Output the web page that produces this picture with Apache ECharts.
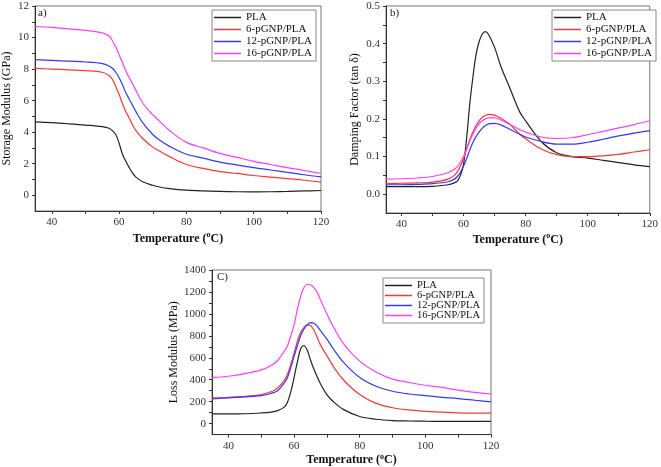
<!DOCTYPE html>
<html><head><meta charset="utf-8">
<script src="https://cdn.jsdelivr.net/npm/echarts@6/dist/echarts.min.js"></script>
<style>html,body{margin:0;padding:0;background:#fff}#c{width:661px;height:467px}</style>
</head><body><div id="c"></div>
<script>
// ---------- DATA ----------
const seriesNames = ['PLA', '6-pGNP/PLA', '12-pGNP/PLA', '16-pGNP/PLA'];
const xLabels = [40, 60, 80, 100, 120];
const xTickMarks = [40, 50, 60, 70, 80, 90, 100, 110, 120];

// a) Storage modulus (GPa)
const tempA = [35,40,45,50,55,57,58,59,60,61,62,63,64,65,67,70,72,75,80,85,90,95,100,105,110,115,120];
const storagePLA = [4.65,4.6,4.53,4.45,4.35,4.25,4.1,3.85,3.3,2.6,2.15,1.75,1.4,1.15,0.85,0.63,0.52,0.42,0.32,0.27,0.24,0.22,0.21,0.22,0.24,0.27,0.3];
const storage6 = [8.05,8.0,7.95,7.9,7.8,7.6,7.35,6.9,6.4,5.8,5.3,4.9,4.45,4.1,3.6,3.05,2.8,2.45,1.95,1.7,1.5,1.38,1.25,1.15,1.05,0.95,0.83];
const storage12 = [8.6,8.55,8.5,8.45,8.35,8.2,8.05,7.8,7.45,7.0,6.5,6.1,5.7,5.3,4.6,3.85,3.5,3.1,2.6,2.35,2.1,1.92,1.75,1.6,1.45,1.3,1.17];
const storage16 = [10.7,10.65,10.55,10.45,10.3,10.1,9.8,9.4,8.9,8.4,7.9,7.45,7.05,6.65,5.85,5.1,4.7,4.1,3.35,3.0,2.65,2.4,2.15,1.95,1.75,1.57,1.38];
const yLabelsA = [0,2,4,6,8,10,12];
const yTickMarksA = [0,1,2,3,4,5,6,7,8,9,10,11,12];

// b) Damping factor (tan delta)
const tempB = [35,40,45,50,55,57,58,59,60,61,62,63,64,65,66,67,68,70,72,75,78,80,85,90,95,100,105,110,115,120];
const dampPLA = [0.02,0.02,0.02,0.021,0.025,0.03,0.035,0.05,0.08,0.15,0.24,0.31,0.37,0.405,0.425,0.432,0.425,0.39,0.34,0.28,0.22,0.195,0.14,0.11,0.1,0.096,0.09,0.084,0.078,0.073];
const damp6 = [0.028,0.029,0.03,0.032,0.04,0.05,0.06,0.075,0.095,0.12,0.145,0.165,0.182,0.195,0.204,0.209,0.212,0.21,0.202,0.185,0.16,0.147,0.12,0.105,0.1,0.1,0.102,0.106,0.112,0.118];
const damp12 = [0.025,0.025,0.026,0.028,0.033,0.04,0.047,0.058,0.075,0.095,0.117,0.137,0.153,0.165,0.175,0.182,0.187,0.188,0.184,0.172,0.16,0.152,0.14,0.133,0.133,0.138,0.146,0.155,0.162,0.169];
const damp16 = [0.04,0.041,0.043,0.047,0.057,0.066,0.073,0.085,0.1,0.12,0.142,0.16,0.175,0.187,0.195,0.2,0.203,0.203,0.197,0.185,0.172,0.165,0.152,0.148,0.15,0.158,0.167,0.176,0.185,0.195];
const yLabelsB = [0,0.1,0.2,0.3,0.4,0.5];
const yTickMarksB = [0,0.05,0.1,0.15,0.2,0.25,0.3,0.35,0.4,0.45,0.5];

// c) Loss modulus (MPa)
const tempC = [35,40,45,50,53,55,57,58,59,60,61,62,63,64,65,66,67,68,70,72,75,80,85,90,95,100,105,110,115,120];
const lossPLA = [88,88,90,97,105,118,150,195,290,420,560,680,712,670,580,500,430,365,265,200,130,65,40,28,24,22,21,21,21,21];
const loss6 = [235,240,248,265,290,325,395,450,540,640,750,830,875,900,895,855,790,720,620,520,400,265,185,145,125,112,105,98,95,95];
const loss12 = [225,235,243,255,275,300,370,420,510,610,710,800,860,900,920,915,890,850,770,680,560,420,340,295,270,255,240,228,213,198];
const loss16 = [420,432,455,490,530,575,660,710,800,900,1040,1160,1240,1270,1265,1240,1200,1130,1000,880,730,570,470,405,375,350,330,305,285,270];
const yLabelsC = [0,200,400,600,800,1000,1200,1400];
const yTickMarksC = [0,100,200,300,400,500,600,700,800,900,1000,1100,1200,1300,1400];

// ---------- STYLE ----------
const FONT = "'Liberation Serif','Times New Roman',serif";
const colors = ['#222222', '#ff3535', '#3535ff', '#ff3cff'];
const axisColor = '#333';

const grids = [
  {left: 35, top: 6, right: 340, bottom: 256},
  {left: 386, top: 6, right: 9, bottom: 254},
  {left: 212, top: 270, right: 170, bottom: 26}
];
const panels = [
  {temps: tempA, vals: [storagePLA, storage6, storage12, storage16], yMin: -1, yMax: 12, yLabels: yLabelsA, yTicks: yTickMarksA,
   yName: 'Storage Modulus (GPa)', yGap: 22, xGap: 20, fmt: v => String(v)},
  {temps: tempB, vals: [dampPLA, damp6, damp12, damp16], yMin: -0.05, yMax: 0.5, yLabels: yLabelsB, yTicks: yTickMarksB,
   yName: 'Damping Factor (tan δ)', yGap: 25, xGap: 19, fmt: v => v.toFixed(1)},
  {temps: tempC, vals: [lossPLA, loss6, loss12, loss16], yMin: -100, yMax: 1400, yLabels: yLabelsC, yTicks: yTickMarksC,
   yName: 'Loss Modulus (MPa)', yGap: 26, xGap: 12, fmt: v => String(v)}
];

const xAxes = [], yAxes = [], series = [];
panels.forEach((p, g) => {
  xAxes.push({
    type: 'value', gridIndex: g, position: 'bottom', min: 35, max: 120,
    axisLine: {show: true, onZero: false, lineStyle: {color: axisColor, width: 1}},
    axisTick: {show: true, length: 3, customValues: xTickMarks, lineStyle: {color: axisColor, width: 1}},
    axisLabel: {customValues: xLabels, fontFamily: FONT, fontSize: 11, color: '#333', margin: 6},
    splitLine: {show: false},
    name: 'Temperature ({s|o}C)', nameLocation: 'middle', nameGap: p.xGap,
    nameTextStyle: {fontFamily: FONT, fontSize: 12, fontWeight: 'bold', color: '#111',
      rich: {s: {fontFamily: FONT, fontSize: 8, fontWeight: 'bold', color: '#111', padding: [0, 0, 7, 0]}}}
  });
  yAxes.push({
    type: 'value', gridIndex: g, position: 'left', min: p.yMin, max: p.yMax,
    axisLine: {show: true, onZero: false, lineStyle: {color: axisColor, width: 1}},
    axisTick: {show: true, length: 3, customValues: p.yTicks, lineStyle: {color: axisColor, width: 1}},
    axisLabel: {customValues: p.yLabels, formatter: p.fmt, fontFamily: FONT, fontSize: 11, color: '#333', margin: 6},
    splitLine: {show: false},
    name: p.yName, nameLocation: 'middle', nameGap: p.yGap,
    nameTextStyle: {fontFamily: FONT, fontSize: 12, color: '#111'}
  });
  p.vals.forEach((vals, i) => {
    series.push({
      type: 'line', name: seriesNames[i], xAxisIndex: g, yAxisIndex: g,
      data: p.temps.map((t, k) => [t, vals[k]]),
      smooth: 0.35, symbol: 'none', showSymbol: false, z: 2 + (i === 0 ? 0 : 1),
      lineStyle: {color: colors[i], width: 1.2}, itemStyle: {color: colors[i]}
    });
  });
});

function legendAt(left, top, gap, size) {
  return {
    left, top, orient: 'vertical', data: seriesNames, icon: 'rect',
    itemWidth: 27, itemHeight: 1.5, itemGap: gap,
    textStyle: {fontFamily: FONT, fontSize: size, color: '#111'},
    backgroundColor: '#fff', borderColor: '#888', borderWidth: 1, padding: [2, 4, 2, 2],
    selectedMode: false
  };
}

const option = {
  animation: false,
  backgroundColor: '#fff',
  grid: grids.map(gr => Object.assign({show: true, borderColor: '#777', borderWidth: 1}, gr)),
  xAxis: xAxes, yAxis: yAxes, series,
  legend: [legendAt(212, 10, 1, 11), legendAt(552, 10, 1, 11), legendAt(383, 278, -1, 10.5)],
  graphic: [
    {type: 'text', left: 38, top: 8, style: {text: 'a)', font: "11px 'Liberation Serif', serif", fill: '#222'}},
    {type: 'text', left: 390, top: 8, style: {text: 'b)', font: "11px 'Liberation Serif', serif", fill: '#222'}},
    {type: 'text', left: 217, top: 272, style: {text: 'C)', font: "11px 'Liberation Serif', serif", fill: '#222'}}
  ]
};
const chart = echarts.init(document.getElementById('c'), null, {renderer: 'canvas'});
chart.setOption(option);
</script>
</body></html>
